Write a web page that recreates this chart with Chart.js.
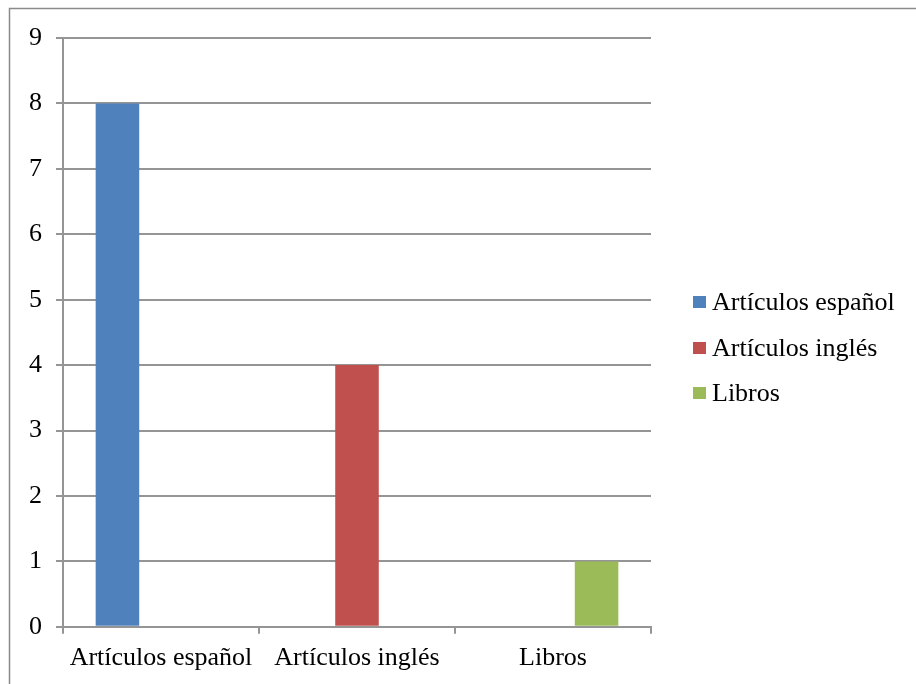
<!DOCTYPE html>
<html>
<head>
<meta charset="utf-8">
<script src="https://cdn.jsdelivr.net/npm/chart.js@4/dist/chart.umd.min.js"></script>
<style>
  html, body { margin: 0; padding: 0; background: #fff; overflow: hidden; }
  #wrap { width: 916px; height: 684px; position: relative; }
</style>
</head>
<body>
<div id="wrap"><canvas id="c" width="916" height="684"></canvas></div>
<script>
const categories = ["Artículos español", "Artículos inglés", "Libros"];
const seriesNames = ["Artículos español", "Artículos inglés", "Libros"];
const seriesEspanol = [8, null, null];
const seriesIngles = [null, 4, null];
const seriesLibros = [null, null, 1];
const seriesColors = ["#4F81BD", "#C0504D", "#9BBB59"];
const yTicks = [0, 1, 2, 3, 4, 5, 6, 7, 8, 9];

const FONT = "'Liberation Serif', 'Times New Roman', serif";
const GRID = "#959595";

const frame = {
  id: 'frame',
  beforeDraw(chart) {
    const ctx = chart.ctx;
    ctx.save();
    ctx.fillStyle = '#fff';
    ctx.fillRect(0, 0, chart.width, chart.height);
    ctx.strokeStyle = '#8a8a8a';
    ctx.lineWidth = 1.5;
    ctx.strokeRect(9.5, 8.5, 1200, 1200);
    ctx.restore();
  }
};

const customLegend = {
  id: 'customLegend',
  afterDraw(chart) {
    const ctx = chart.ctx;
    const x0 = 693, ys = [302, 348, 393];
    ctx.save();
    ctx.font = "26px " + FONT;
    ctx.textBaseline = 'middle';
    chart.data.datasets.forEach((ds, i) => {
      ctx.fillStyle = ds.backgroundColor;
      ctx.fillRect(x0, ys[i] - 6, 13, 12);
      ctx.fillStyle = '#000';
      ctx.fillText(ds.label, x0 + 19, ys[i] + 1);
    });
    ctx.restore();
  }
};

new Chart(document.getElementById('c'), {
  type: 'bar',
  data: {
    labels: categories,
    datasets: [
      { label: seriesNames[0], data: seriesEspanol, backgroundColor: seriesColors[0] },
      { label: seriesNames[1], data: seriesIngles, backgroundColor: seriesColors[1] },
      { label: seriesNames[2], data: seriesLibros, backgroundColor: seriesColors[2] }
    ]
  },
  options: {
    responsive: false,
    animation: false,
    devicePixelRatio: 1,
    layout: { padding: { left: 15, right: 265, top: 38, bottom: 1 } },
    datasets: { bar: { categoryPercentage: 0.6667, barPercentage: 1.0 } },
    plugins: {
      legend: { display: false },
      tooltip: { enabled: false }
    },
    scales: {
      x: {
        grid: { drawOnChartArea: false, drawTicks: true, tickLength: 7, color: GRID, lineWidth: 2, offset: true },
        border: { display: true, color: GRID, width: 2 },
        ticks: { color: '#000', font: { family: FONT, size: 26 }, padding: 9, maxRotation: 0, autoSkip: false }
      },
      y: {
        min: 0, max: 9,
        afterBuildTicks(axis) { axis.ticks = yTicks.map(v => ({ value: v })); },
        grid: { color: GRID, lineWidth: 2, tickLength: 7, drawTicks: true },
        border: { display: true, color: GRID, width: 2 },
        ticks: { color: '#000', font: { family: FONT, size: 26 }, padding: 14 }
      }
    }
  },
  plugins: [frame, customLegend]
});
</script>
</body>
</html>
